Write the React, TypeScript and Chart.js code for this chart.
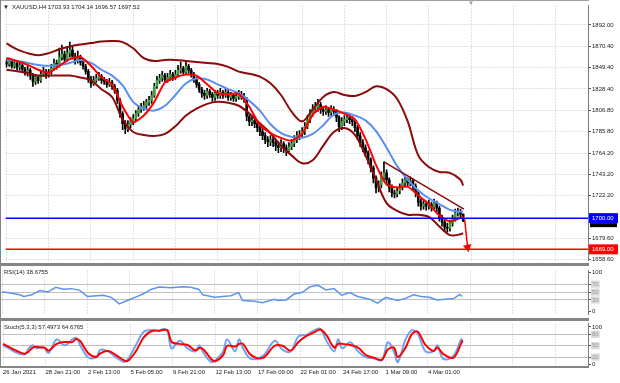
import React, { useEffect, useRef } from 'react';
import { Chart, registerables } from 'chart.js';
Chart.register(...registerables);

const FONT = "'Liberation Sans', Arial, sans-serif";
const X_MIN = -0.376;
const X_MAX = 220.3;

// ---- candles (XAUUSD H4), bar index 0 = 26 Jan 2021 05:00 ----
const opens = [
  1855,1853,1856,1851,1854,1850,1852,1848,1845,1847,
  1842,1836,1840,1837,1843,1846,1842,1845,1849,1854,
  1851,1860,1863,1858,1864,1867,1861,1856,1860,1855,
  1851,1846,1838,1834,1837,1839,1841,1837,1836,1833,
  1835,1831,1827,1817,1804,1794,1789,1793,1796,1799,
  1804,1808,1810,1812,1815,1817,1822,1831,1837,1839,
  1842,1838,1840,1843,1840,1843,1847,1849,1845,1851,
  1847,1843,1838,1833,1828,1824,1822,1826,1823,1820,
  1824,1822,1825,1822,1825,1820,1822,1819,1821,1823,
  1821,1818,1801,1796,1797,1794,1790,1786,1782,1778,
  1776,1778,1775,1772,1770,1774,1770,1767,1771,1774,
  1778,1782,1783,1786,1791,1798,1804,1809,1810,1813,
  1808,1806,1808,1805,1808,1806,1800,1791,1796,1798,
  1800,1798,1796,1790,1782,1775,1770,1765,1758,1750,
  1740,1730,1733,1740,1745,1738,1730,1725,1724,1727,
  1731,1735,1738,1735,1737,1732,1725,1716,1712,1714,
  1712,1714,1711,1715,1710,1700,1696,1691,1690,1695,
  1700,1705,1706,1703.93,
];
const highs = [
  1858,1859,1857,1857,1856,1855,1854,1850,1851,1849,
  1844,1843,1842,1846,1850,1848,1848,1853,1858,1857,
  1869,1872,1866,1870,1875,1870,1864,1866,1862,1858,
  1853,1848,1841,1841,1843,1845,1843,1840,1838,1839,
  1837,1833,1829,1819,1806,1797,1797,1800,1803,1807,
  1812,1814,1816,1818,1821,1826,1834,1841,1843,1846,
  1844,1844,1847,1845,1847,1852,1855,1851,1856,1853,
  1849,1845,1840,1835,1830,1827,1829,1828,1825,1827,
  1827,1829,1827,1829,1827,1825,1824,1825,1827,1826,
  1824,1820,1804,1801,1800,1797,1792,1789,1785,1781,
  1782,1781,1778,1776,1778,1776,1773,1775,1778,1782,
  1786,1787,1790,1795,1802,1808,1813,1815,1818,1815,
  1811,1812,1810,1812,1811,1808,1802,1800,1802,1804,
  1803,1801,1798,1792,1785,1778,1773,1767,1760,1752,
  1742,1737,1746,1756,1748,1740,1733,1728,1731,1734,
  1739,1742,1740,1741,1739,1734,1727,1719,1718,1717,
  1718,1716,1719,1717,1712,1703,1698,1695,1698,1703,
  1709,1710,1709,1704.14,
];
const lows = [
  1850,1851,1849,1849,1847,1847,1845,1842,1841,1838,
  1831,1833,1834,1835,1841,1839,1840,1843,1847,1848,
  1850,1857,1855,1856,1860,1858,1853,1854,1852,1848,
  1843,1835,1830,1832,1835,1837,1834,1833,1830,1831,
  1828,1824,1814,1800,1788,1784,1786,1790,1793,1796,
  1801,1805,1807,1809,1812,1814,1820,1829,1834,1836,
  1835,1835,1837,1837,1838,1841,1844,1842,1843,1844,
  1840,1835,1830,1825,1820,1818,1819,1820,1816,1817,
  1819,1819,1819,1820,1817,1817,1816,1816,1818,1818,
  1815,1797,1792,1792,1790,1786,1782,1778,1774,1771,
  1772,1771,1767,1765,1766,1765,1762,1764,1768,1771,
  1775,1778,1780,1783,1789,1795,1801,1805,1806,1804,
  1802,1803,1801,1802,1802,1796,1786,1788,1792,1795,
  1794,1792,1786,1778,1771,1766,1761,1754,1746,1735,
  1725,1726,1730,1737,1734,1726,1721,1720,1721,1724,
  1728,1732,1731,1732,1728,1721,1712,1708,1709,1708,
  1709,1707,1708,1706,1697,1692,1687,1686,1687,1692,
  1697,1702,1701,1696.57,
];
const closes = [
  1853,1856,1851,1854,1850,1852,1848,1845,1847,1842,
  1836,1840,1837,1843,1846,1842,1845,1849,1854,1851,
  1860,1863,1858,1864,1867,1861,1856,1860,1855,1851,
  1846,1838,1834,1837,1839,1841,1837,1836,1833,1835,
  1831,1827,1817,1804,1794,1789,1793,1796,1799,1804,
  1808,1810,1812,1815,1817,1822,1831,1837,1839,1842,
  1838,1840,1843,1840,1843,1847,1849,1845,1851,1847,
  1843,1838,1833,1828,1824,1822,1826,1823,1820,1824,
  1822,1825,1822,1825,1820,1822,1819,1821,1823,1821,
  1818,1801,1796,1797,1794,1790,1786,1782,1778,1776,
  1778,1775,1772,1770,1774,1770,1767,1771,1774,1778,
  1782,1783,1786,1791,1798,1804,1809,1810,1813,1808,
  1806,1808,1805,1808,1806,1800,1791,1796,1798,1800,
  1798,1796,1790,1782,1775,1770,1765,1758,1750,1740,
  1730,1733,1740,1745,1738,1730,1725,1724,1727,1731,
  1735,1738,1735,1737,1732,1725,1716,1712,1714,1712,
  1714,1711,1715,1710,1700,1696,1691,1690,1695,1700,
  1705,1706,1703.93,1697.52,
];

// ---- time axis ----
const timeTickIdx = [0, 16, 32, 48, 64, 80, 96, 112, 128, 144, 160];
const timeLabels = ['26 Jan 2021', '28 Jan 21:00', '2 Feb 13:00', '5 Feb 05:00', '9 Feb 21:00', '12 Feb 13:00', '17 Feb 09:00', '22 Feb 01:00', '24 Feb 17:00', '1 Mar 09:00', '4 Mar 01:00'];
const emptyGridIdx = [176, 192, 208];

// ---- price axis ----
const priceTicks = [1892.0, 1870.4, 1849.4, 1828.4, 1806.8, 1785.8, 1764.2, 1743.2, 1722.2, 1679.6, 1658.6];
const buyLevel = 1700.0;
const targetLevel = 1669.0;
const arrowFrom = [173.5, 1700];
const arrowTo = [174.7, 1671];
const trendFrom = [143, 1756];
const trendTo = [173.3, 1709];

// ---- main-window indicators ----
const maIdx = [0,4,8,12,16,20,24,28,32,36,40,44,48,52,56,60,64,68,72,76,80,84,88,92,96,100,104,108,112,116,120,124,128,132,136,140,144,148,152,156,160,164,168,172,173];
const bbUpper = [1873.6,1867.8,1864.0,1862.0,1864.0,1867.8,1870.7,1872.6,1874.0,1875.6,1876.0,1875.0,1868.8,1859.1,1856.2,1857.2,1857.2,1856.2,1855.2,1854.3,1853.3,1850.4,1845.6,1843.6,1840.7,1834.0,1822.4,1805.9,1796.2,1807.8,1820.4,1825.3,1822.4,1821.4,1825.3,1831.1,1828.2,1818.5,1796.2,1762.4,1750.8,1745.9,1745.0,1738.2,1732.4];
const bbLower = [1847.5,1846.1,1844.1,1841.7,1841.7,1841.7,1841.7,1839.8,1836.9,1828.2,1820.4,1798.2,1785.6,1782.7,1781.7,1783.7,1791.4,1802.0,1808.8,1813.6,1815.6,1814.6,1811.7,1804.0,1794.3,1784.6,1772.0,1762.4,1754.6,1757.5,1772.0,1785.6,1789.5,1782.7,1762.4,1738.2,1715.0,1707.2,1703.4,1703.4,1701.4,1691.8,1683.1,1684.0,1685.0];
const maSlow = [1857.2,1856.2,1854.3,1852.3,1851.4,1852.3,1854.3,1857.2,1854.3,1847.5,1841.7,1832.0,1815.6,1808.8,1806.9,1811.7,1822.4,1834.0,1838.8,1837.8,1833.0,1828.2,1824.3,1816.5,1806.9,1793.3,1784.6,1780.8,1779.8,1783.7,1792.4,1803.0,1805.0,1802.0,1797.2,1786.6,1770.0,1751.7,1738.2,1727.6,1719.8,1714.0,1708.2,1706.3,1706.3];
const maFast = [1859.1,1856.2,1852.3,1847.5,1844.6,1851.4,1858.1,1860.1,1851.4,1839.8,1833.0,1810.7,1795.3,1802.0,1815.6,1834.9,1839.8,1842.7,1841.7,1833.0,1824.3,1823.4,1823.4,1810.7,1792.4,1784.6,1779.8,1776.9,1783.7,1803.0,1810.7,1807.8,1804.0,1798.2,1778.8,1752.7,1733.4,1730.5,1731.4,1722.7,1714.0,1702.4,1696.6,1700.5,1701.5];

// ---- RSI(14) ----
const rsiIdx = [0,2,6.7,8.2,11.2,14.2,17.2,20.2,23.2,26.1,29.1,32.1,38.1,41.1,44.1,47.1,50,53,56,59,63.5,68,71,74,75.5,80,86,89,90.4,94.9,97.9,102.4,103.8,106.8,109.8,112.8,115.8,118.8,121.8,124.8,127.7,130.7,133.7,138.2,141.2,144.2,148.7,151.7,154.7,157.6,160.6,163.6,166.6,170,172,173];
const rsiValues = [50,48.7,43,39,43,54,50,62,57,58.7,55,38.7,42,36.7,20,28.7,36.7,45,56.7,63,60.7,63.3,62,56.7,43,36.7,40.7,48.7,28.7,27,23,32,28.7,30,45,48.7,63.3,67.3,55.3,58.7,42,48.7,38.7,32,22,36.7,28.7,34,43.3,38.7,36.7,30,32,34,44,38.7];
const rsiLevels = [70, 50, 30];
const rsiLabel = 'RSI(14) 38.6755';

// ---- Stochastic(5,3,3) ----
const stochIdx = [0,2.2,5.2,8.2,9.7,11.2,12.7,14.2,15.7,17.2,20.2,23.2,26.1,27.6,29.1,32.1,35.1,36.6,39.6,42.6,45.6,47.1,50,53,56,59,60.5,62,63.5,66.5,69.5,72.5,74,75.5,78.4,79.9,82.9,84.4,87.4,88.9,90.4,93.4,97.9,102.3,105.3,108.3,111.3,114.3,117.3,119.5,121.8,124.7,126.2,127.7,130.7,133.7,136.7,139.7,142.7,144.9,147.2,148.7,151.6,153.9,156.1,159.1,162.1,163.6,165.8,169.6,172.6,173];
const stochMain = [51,43,31,27,43,51,43,47,43,31,67,51,67,71,51,19,19,39,35,19,7,15,51,87,91,90,95,87,43,63,43,35,51,31,7,11,35,67,35,67,43,15,23,63,39,35,75,79,91,95,63,35,67,43,59,35,19,17,11,59,35,7,67,91,83,35,35,51,15,23,67,57.5];
const stochSignal = [55,47,36,29,35,45,47,45,45,37,55,60,60,68,62,30,20,30,36,25,11,10,35,72,89,90,92,91,60,55,52,38,44,40,15,9,25,50,48,55,55,25,18,50,50,37,60,76,86,93,78,45,55,55,52,45,25,18,13,40,45,20,45,80,88,52,36,45,28,18,57,64.7];
const stochLevels = [80, 50, 20];
const stochLabel = 'Stoch(5,3,3) 57.4973 64.6765';

const BULL = '#3f9f3f';
const GRID = '#c4c4c4';
const TXT = '#1a1a1a';

function xAxis(showLabels: boolean): any {
  const gridIdx = [...timeTickIdx, ...emptyGridIdx];
  return {
    type: 'linear',
    min: X_MIN,
    max: X_MAX,
    offset: false,
    afterBuildTicks: (s: any) => { s.ticks = gridIdx.map((v) => ({ value: v })); },
    afterFit: (s: any) => { s.height = showLabels ? 17 : 0; },
    ticks: {
      display: showLabels,
      autoSkip: false,
      maxRotation: 0,
      minRotation: 0,
      align: 'start',
      padding: 3,
      color: TXT,
      font: { family: FONT, size: 6 },
      callback: (v: any) => { const k = timeTickIdx.indexOf(Number(v)); return k >= 0 ? timeLabels[k] : ''; },
    },
    grid: { color: GRID, lineWidth: 1, drawTicks: false, offset: false },
    border: { display: false, dash: [1, 2] },
  };
}

function indicatorAxis(min: number, max: number, ticks: number[], levels: number[]): any {
  const isLevel = (c: any) => c && c.tick && levels.includes(c.tick.value);
  return {
    type: 'linear',
    position: 'right',
    min,
    max,
    afterBuildTicks: (s: any) => { s.ticks = ticks.map((v) => ({ value: v })); },
    afterFit: (s: any) => { s.width = 32; },
    ticks: {
      font: { family: FONT, size: 6 },
      padding: 1,
      color: (c: any) => (isLevel(c) ? '#9a9a9a' : TXT),
      showLabelBackdrop: true,
      backdropColor: (c: any) => (isLevel(c) ? '#dadada' : 'rgba(0,0,0,0)'),
      backdropPadding: { left: 1, right: 1, top: 0, bottom: 0 },
      callback: (v: any) => String(v),
    },
    grid: {
      color: (c: any) => (isLevel(c) ? '#c0c0c0' : 'rgba(0,0,0,0)'),
      tickLength: 3,
      tickColor: '#555',
      drawTicks: true,
    },
    border: { display: true, color: '#7a7a7a', width: 1, dash: [] },
  };
}

function textPlugin(id: string, text: string, x: number, y: number): any {
  return {
    id,
    afterDraw(chart: any) {
      const { ctx } = chart;
      ctx.save();
      ctx.font = `6px ${FONT}`;
      ctx.textBaseline = 'middle';
      ctx.fillStyle = TXT;
      ctx.fillText(text, x, y);
      ctx.restore();
    },
  };
}

const mainLabels: any = {
  id: 'mainLabels',
  afterDraw(chart: any) {
    const { ctx } = chart;
    const y = chart.scales.y;
    const last = closes.length - 1;
    ctx.save();
    ctx.font = `6px ${FONT}`;
    ctx.textBaseline = 'middle';
    ctx.fillStyle = TXT;
    ctx.fillText('▼', 3, 7);
    ctx.fillText(`XAUUSD,H4 ${opens[last].toFixed(2)} ${highs[last].toFixed(2)} ${lows[last].toFixed(2)} ${closes[last].toFixed(2)}`, 12, 7);
    ctx.fillStyle = '#9a9a9a';
    ctx.fillText('▼', chart.scales.x.getPixelForValue(176) - 3, 3);
    const yb = y.getPixelForValue(buyLevel);
    ctx.fillStyle = '#0000ff';
    ctx.fillRect(589, yb - 5, 29, 10);
    ctx.fillStyle = '#000';
    ctx.fillRect(590, yb + 5, 27, 4);
    ctx.fillStyle = '#fff';
    ctx.fillText(buyLevel.toFixed(2), 592, yb);
    const yr = y.getPixelForValue(targetLevel);
    ctx.fillStyle = '#ff0000';
    ctx.fillRect(589, yr - 5, 29, 10);
    ctx.fillStyle = '#fff';
    ctx.fillText(targetLevel.toFixed(2), 592, yr);
    ctx.restore();
  },
};

function line(xs: number[], ys: number[], color: string, width: number, tension: number, order = 1): any {
  return {
    type: 'line',
    data: xs.map((x, k) => ({ x, y: ys[k] })),
    borderColor: color,
    borderWidth: width,
    pointRadius: 0,
    tension,
    fill: false,
    order,
  };
}

const commonOpts: any = {
  responsive: false,
  animation: false,
  devicePixelRatio: 1,
  events: [],
  plugins: { legend: { display: false }, tooltip: { enabled: false } },
};

export default function App() {
  const mainRef = useRef<HTMLCanvasElement>(null);
  const rsiRef = useRef<HTMLCanvasElement>(null);
  const stochRef = useRef<HTMLCanvasElement>(null);

  useEffect(() => {
    const charts: Chart[] = [];
    const idx = closes.map((_, i) => i);

    charts.push(new Chart(mainRef.current as HTMLCanvasElement, {
      type: 'bar',
      data: {
        datasets: [
          line(maIdx, bbUpper, '#8b0a0a', 2, 0.35, 2),
          line(maIdx, bbLower, '#8b0a0a', 2, 0.35, 2),
          line(maIdx, maSlow, '#5a8ef0', 2, 0.35, 2),
          line(maIdx, maFast, '#ff0000', 2, 0.2, 1),
          line([trendFrom[0], trendTo[0]], [trendFrom[1], trendTo[1]], '#8b0a0a', 1.5, 0, 1),
          line([X_MIN, X_MAX], [buyLevel, buyLevel], '#0000ff', 1.5, 0, 0),
          line([X_MIN, X_MAX], [targetLevel, targetLevel], '#ff0000', 1.5, 0, 0),
          {
            type: 'line',
            data: [{ x: arrowFrom[0], y: arrowFrom[1] }, { x: arrowTo[0], y: arrowTo[1] }],
            borderColor: '#ff0000',
            borderWidth: 1.5,
            pointRadius: [0, 3.5],
            pointStyle: 'triangle',
            rotation: 168,
            pointBackgroundColor: '#ff0000',
            pointBorderColor: '#ff0000',
            order: 0,
          },
          {
            type: 'bar',
            data: idx.map((i) => ({ x: i, y: [lows[i], highs[i]] })),
            backgroundColor: '#000',
            barThickness: 1,
            grouped: false,
            order: 20,
          },
          {
            type: 'bar',
            data: idx.map((i) => ({ x: i, y: [opens[i], closes[i]] })),
            backgroundColor: idx.map((i) => (closes[i] >= opens[i] ? BULL : '#000')),
            barThickness: 2,
            minBarLength: 1,
            grouped: false,
            order: 19,
          },
        ] as any,
      },
      options: {
        ...commonOpts,
        layout: { padding: { left: 1, top: 1, right: 0, bottom: 3 } },
        scales: {
          x: xAxis(false),
          y: {
            type: 'linear',
            position: 'right',
            min: 1657.92,
            max: 1911.35,
            afterBuildTicks: (s: any) => { s.ticks = priceTicks.map((v) => ({ value: v })); },
            afterFit: (s: any) => { s.width = 32; },
            ticks: { font: { family: FONT, size: 6 }, color: TXT, padding: 1, callback: (v: any) => Number(v).toFixed(2) },
            grid: { color: GRID, drawTicks: true, tickLength: 3, tickColor: '#555', tickBorderDash: [] },
            border: { display: true, color: '#7a7a7a', width: 1, dash: [1, 2] },
          },
        },
      } as any,
      plugins: [mainLabels],
    }));

    charts.push(new Chart(rsiRef.current as HTMLCanvasElement, {
      type: 'line',
      data: { datasets: [line(rsiIdx, rsiValues, '#5b93ef', 1.5, 0)] },
      options: {
        ...commonOpts,
        layout: { padding: { left: 1, top: 1, right: 0, bottom: 1 } },
        scales: { x: xAxis(false), y: indicatorAxis(-6.52, 104.35, [100, ...rsiLevels, 0], rsiLevels) },
      } as any,
      plugins: [textPlugin('rsiText', rsiLabel, 4, 6)],
    }));

    charts.push(new Chart(stochRef.current as HTMLCanvasElement, {
      type: 'line',
      data: {
        datasets: [
          line(stochIdx, stochMain, '#6fa3f2', 2, 0.35, 2),
          line(stochIdx, stochSignal, '#ff0000', 2, 0.35, 1),
        ],
      },
      options: {
        ...commonOpts,
        layout: { padding: { left: 1, top: 2, right: 0, bottom: 0 } },
        scales: { x: xAxis(true), y: indicatorAxis(-3.75, 108.75, [100, ...stochLevels, 0], stochLevels) },
      } as any,
      plugins: [textPlugin('stochText', stochLabel, 4, 8)],
    }));

    return () => charts.forEach((c) => c.destroy());
  }, []);

  const bar = (s: React.CSSProperties) => <div style={{ position: 'absolute', background: '#858585', ...s }} />;

  return (
    <div style={{ position: 'absolute', left: 0, top: 0, width: 620, height: 383, background: '#fff', overflow: 'hidden' }}>
      <canvas ref={mainRef} width={620} height={266} style={{ position: 'absolute', left: 0, top: 0 }} />
      <canvas ref={rsiRef} width={620} height={53} style={{ position: 'absolute', left: 0, top: 266 }} />
      <canvas ref={stochRef} width={620} height={64} style={{ position: 'absolute', left: 0, top: 319 }} />
      {bar({ left: 0, top: 0, width: 589, height: 1, background: '#a0a0a0' })}
      {bar({ left: 0, top: 0, width: 1, height: 368 })}
      {bar({ left: 0, top: 263, width: 589, height: 3 })}
      {bar({ left: 0, top: 318, width: 589, height: 3 })}
      {bar({ left: 0, top: 366, width: 589, height: 2 })}
    </div>
  );
}
